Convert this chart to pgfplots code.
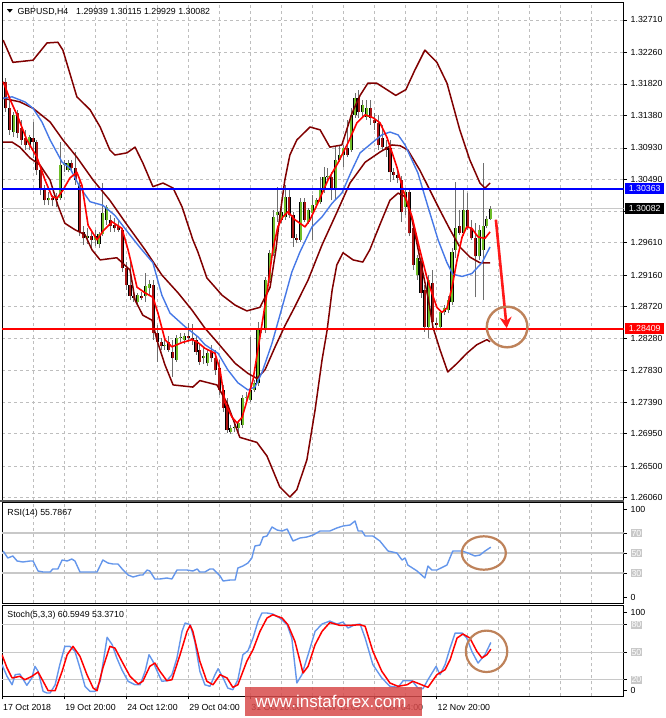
\documentclass[border=0pt]{standalone}
\usepackage{pgfplots}
\pgfplotsset{compat=1.18}
\usepackage{pgfplotstable}
\usepackage{fontspec}
\setmainfont{Liberation Sans}
\usetikzlibrary{arrows.meta}

\definecolor{bullc}{RGB}{110,190,40}
\definecolor{bearc}{RGB}{170,20,20}
\definecolor{wickc}{RGB}{110,110,110}
\definecolor{band}{RGB}{128,0,0}
\definecolor{maBlue}{RGB}{70,120,230}
\definecolor{oscBlue}{RGB}{100,150,235}
\definecolor{gridc}{RGB}{190,190,190}
\definecolor{levc}{RGB}{200,200,200}
\definecolor{ring}{RGB}{190,130,90}
\definecolor{wmred}{RGB}{215,75,75}

\newcommand\lbl{\fontsize{8.8}{10}\selectfont}
\newcommand\lev[1]{{\setlength\fboxsep{0.8pt}\colorbox{levc}{\textcolor{white}{#1}}}}

% GBPUSD H4 candles, bar index / open / high / low / close
\pgfplotstableread{
i o h l c
3 1.3115 1.3143 1.3108 1.3139
7 1.3097 1.3111 1.3090 1.3108
12 1.3020 1.3031 1.3013 1.3023
14 1.3020 1.3030 1.3010 1.3023
15 1.3023 1.3101 1.3020 1.3069
16 1.3069 1.3076 1.3059 1.3072
17 1.3062 1.3076 1.3059 1.3072
22 1.2967 1.2981 1.2959 1.2970
24 1.2965 1.2979 1.2956 1.2970
25 1.2959 1.2976 1.2954 1.2973
26 1.2973 1.3044 1.2970 1.3002
27 1.2993 1.3013 1.2986 1.3011
35 1.2879 1.2891 1.2876 1.2888
37 1.2887 1.2919 1.2879 1.2901
38 1.2898 1.2909 1.2888 1.2904
42 1.2817 1.2826 1.2812 1.2819
45 1.2798 1.2832 1.2795 1.2828
46 1.2828 1.2835 1.2823 1.2830
47 1.2826 1.2835 1.2820 1.2831
52 1.2800 1.2814 1.2792 1.2803
53 1.2793 1.2812 1.2789 1.2807
59 1.2697 1.2707 1.2695 1.2703
60 1.2703 1.2709 1.2697 1.2704
61 1.2703 1.2714 1.2697 1.2710
62 1.2707 1.2749 1.2703 1.2745
63 1.2745 1.2753 1.2739 1.2746
64 1.2742 1.2830 1.2739 1.2756
65 1.2756 1.2770 1.2753 1.2766
66 1.2766 1.2851 1.2762 1.2839
67 1.2839 1.2846 1.2835 1.2842
68 1.2839 1.2913 1.2835 1.2909
69 1.2909 1.2951 1.2905 1.2947
70 1.2947 1.3007 1.2942 1.2997
71 1.2999 1.3039 1.2990 1.3004
72 1.2993 1.3020 1.2989 1.3004
73 1.2997 1.3041 1.2993 1.3025
77 1.2965 1.3023 1.2962 1.3018
79 1.2990 1.3009 1.2987 1.3007
80 1.3002 1.3027 1.2965 1.3013
81 1.3013 1.3023 1.3011 1.3020
82 1.3018 1.3052 1.3015 1.3034
83 1.3034 1.3066 1.3030 1.3052
84 1.3052 1.3065 1.3048 1.3054
86 1.3034 1.3094 1.3020 1.3076
87 1.3076 1.3097 1.3073 1.3083
88 1.3083 1.3097 1.3066 1.3093
90 1.3090 1.3148 1.3087 1.3139
91 1.3139 1.3169 1.3135 1.3162
93 1.3143 1.3160 1.3135 1.3153
94 1.3136 1.3160 1.3132 1.3148
104 1.3011 1.3037 1.3000 1.3032
107 1.2916 1.2944 1.2909 1.2940
110 1.2844 1.2916 1.2828 1.2909
113 1.2844 1.2867 1.2841 1.2864
114 1.2864 1.2874 1.2860 1.2870
115 1.2867 1.2887 1.2863 1.2881
116 1.2878 1.2954 1.2874 1.2948
117 1.2951 1.3045 1.2940 1.2981
119 1.2974 1.3034 1.2970 1.3007
123 1.2942 1.2986 1.2937 1.2979
124 1.2951 1.3072 1.2881 1.2984
125 1.2984 1.2998 1.2981 1.2994
126 1.29939 1.30115 1.29929 1.30082
}\bull

\pgfplotstableread{
i o h l c
1 1.3185 1.3190 1.3143 1.3148
2 1.3148 1.3160 1.3111 1.3118
4 1.3142 1.3146 1.3107 1.3114
5 1.3121 1.3132 1.3097 1.3104
6 1.3107 1.3118 1.3090 1.3097
8 1.3107 1.3129 1.3079 1.3101
9 1.3101 1.3104 1.3055 1.3062
10 1.3062 1.3069 1.3027 1.3034
11 1.3034 1.3041 1.3013 1.3020
13 1.3023 1.3027 1.3012 1.3020
18 1.3072 1.3076 1.3059 1.3065
19 1.3065 1.3087 1.3041 1.3048
20 1.3041 1.3051 1.2970 1.2976
21 1.2976 1.2984 1.2958 1.2967
23 1.2970 1.2976 1.2954 1.2965
28 1.2993 1.3000 1.2976 1.2984
29 1.2986 1.2995 1.2976 1.2981
30 1.2984 1.2993 1.2976 1.2979
31 1.2979 1.2981 1.2920 1.2926
32 1.2926 1.2934 1.2895 1.2902
33 1.2902 1.2934 1.2881 1.2887
34 1.2887 1.2892 1.2879 1.2884
36 1.2887 1.2892 1.2881 1.2884
39 1.2902 1.2909 1.2826 1.2835
40 1.2835 1.2846 1.2795 1.2823
41 1.2823 1.2828 1.2812 1.2817
43 1.2823 1.2831 1.2809 1.2812
44 1.2809 1.2826 1.2774 1.2800
48 1.2831 1.2849 1.2823 1.2828
49 1.2828 1.2848 1.2819 1.2826
50 1.2826 1.2832 1.2805 1.2809
51 1.2812 1.2819 1.2791 1.2795
54 1.2809 1.2819 1.2795 1.2800
55 1.2800 1.2812 1.2777 1.2784
56 1.2786 1.2798 1.2749 1.2756
57 1.2756 1.2763 1.2725 1.2731
58 1.2735 1.2745 1.2696 1.2700
74 1.3025 1.3037 1.2995 1.2999
75 1.2999 1.3004 1.2955 1.2967
76 1.2967 1.2973 1.2960 1.2965
78 1.3018 1.3023 1.2990 1.2993
85 1.3052 1.3059 1.3020 1.3034
89 1.3093 1.3132 1.3080 1.3083
92 1.3162 1.3174 1.3135 1.3143
95 1.3148 1.3160 1.3125 1.3135
96 1.3132 1.3142 1.3118 1.3128
97 1.3128 1.3139 1.3090 1.3097
98 1.3107 1.3125 1.3090 1.3094
99 1.3094 1.3104 1.3080 1.3090
100 1.3093 1.3104 1.3046 1.3059
101 1.3059 1.3065 1.3048 1.3055
102 1.3055 1.3062 1.3044 1.3051
103 1.3048 1.3054 1.2990 1.3004
105 1.3032 1.3037 1.2970 1.2974
106 1.2981 1.2990 1.2923 1.2930
108 1.2935 1.2940 1.2884 1.2891
109 1.2895 1.2902 1.2837 1.2844
111 1.2905 1.2923 1.2839 1.2851
112 1.2849 1.2856 1.2842 1.2846
118 1.2984 1.3007 1.2972 1.2974
120 1.3007 1.3030 1.2979 1.2983
121 1.2981 1.2993 1.2965 1.2967
122 1.2967 1.2988 1.2885 1.2942
}\bear

\pgfplotsset{
  panel/.style={
    scale only axis, width=621.5pt,
    xmin=0, xmax=160.2,
    axis line style={black, line width=0.9pt},
    grid style={gridc, line width=0.6pt, dash pattern=on 3pt off 3pt},
    ytick pos=right, yticklabel pos=right,
    tick align=outside, major tick length=3pt, minor tick length=0pt,
    ytick style={black, line width=0.6pt},
    yticklabel style={font=\lbl, anchor=west, inner sep=0pt, xshift=4pt},
    xmajorgrids,
  },
  wick/.style={draw=none, no marks, forget plot,
    error bars/.cd, y dir=plus, y explicit, error mark=none,
    error bar style={draw=wickc, line width=0.9pt}},
  body/.style={draw=none, no marks, forget plot,
    error bars/.cd, y dir=plus, y explicit, error mark=none,
    error bar style={draw=#1}},
}

\begin{document}
\begin{tikzpicture}
\useasboundingbox (0pt,0pt) rectangle (665pt,-718pt);

% ---------------- price panel ----------------
\begin{axis}[panel, at={(2pt,-2pt)}, anchor=north west, height=498pt,
  ymin=1.26028, ymax=1.32960,
  xtick={8,16,...,152}, xticklabels={}, xtick style={draw=none},
  ytick={1.26060,1.26500,1.26950,1.27390,1.27830,1.28280,1.28720,1.29160,1.29610,1.30050,1.30490,1.30930,1.31380,1.31820,1.32260,1.32710},
  yticklabels={1.26060,1.26500,1.26950,1.27390,1.27830,1.28280,1.28720,1.29160,1.29610,,1.30490,1.30930,1.31380,1.31820,1.32260,1.32710},
  ymajorgrids]

\addplot[levc, line width=0.8pt] coordinates {(0,1.30082)(160.2,1.30082)};

\addplot[wick] table[x=i, y=l, y error plus expr=\thisrow{h}-\thisrow{l}] {\bull};
\addplot[wick] table[x=i, y=l, y error plus expr=\thisrow{h}-\thisrow{l}] {\bear};
\addplot[body={black, line width=3.1pt}] table[x=i, y=o, y error plus expr=\thisrow{c}-\thisrow{o}] {\bull};
\addplot[body={bullc, line width=2pt}] table[x=i, y=o, y error plus expr=\thisrow{c}-\thisrow{o}] {\bull};
\addplot[body={black, line width=3.1pt}] table[x=i, y=c, y error plus expr=\thisrow{o}-\thisrow{c}] {\bear};
\addplot[body={bearc, line width=2pt}] table[x=i, y=c, y error plus expr=\thisrow{o}-\thisrow{c}] {\bear};

% Bollinger bands
\addplot[band, line width=1.5pt, line join=round] coordinates {
(0.3,1.3243)(2.8,1.3212)(8.0,1.3215)(11.6,1.3239)(14.4,1.3240)(15.7,1.3229)(19.3,1.3164)(22.7,1.3146)(25.3,1.3122)(27.8,1.3090)(29.1,1.3083)(32.2,1.3086)(34.3,1.3094)(36.3,1.3072)(38.9,1.3039)(41.5,1.3044)(44.1,1.3037)(46.4,1.3011)(49.2,1.2965)(50.5,1.2948)(52.8,1.2912)(56.7,1.2888)(60.1,1.2874)(63.1,1.2866)(66.5,1.2871)(69.1,1.2899)(70.6,1.2951)(71.6,1.2997)(72.9,1.3048)(74.2,1.3083)(76.0,1.3104)(79.4,1.3122)(82.0,1.3118)(84.5,1.3094)(87.6,1.3097)(90.2,1.3141)(92.3,1.3166)(94.3,1.3183)(96.6,1.3183)(99.2,1.3174)(101.5,1.3166)(104.1,1.3174)(106.4,1.3201)(109.0,1.3229)(112.1,1.3212)(114.7,1.3183)(118.0,1.3118)(120.6,1.3076)(123.2,1.3044)(124.5,1.3037)(125.8,1.3044)};
\addplot[band, line width=1.5pt, line join=round] coordinates {
(0.3,1.3162)(4.6,1.3157)(8.0,1.3148)(12.4,1.3129)(15.7,1.3104)(19.3,1.3080)(23.5,1.3048)(27.8,1.3020)(32.2,1.2986)(36.9,1.2951)(41.2,1.2916)(45.4,1.2891)(49.0,1.2867)(52.3,1.2842)(54.9,1.2826)(60.1,1.2793)(63.4,1.2779)(65.7,1.2772)(67.8,1.2784)(70.4,1.2816)(72.9,1.2845)(75.5,1.2872)(78.9,1.2909)(82.5,1.2958)(85.8,1.2997)(89.7,1.3044)(93.6,1.3073)(97.4,1.3087)(100.5,1.3097)(102.6,1.3096)(104.6,1.3090)(107.7,1.3062)(110.3,1.3034)(112.9,1.3006)(115.5,1.2979)(118.0,1.2955)(120.6,1.2941)(123.2,1.2933)(125.8,1.2933)};
\addplot[band, line width=1.5pt, line join=round] coordinates {
(0.3,1.3101)(2.6,1.3101)(4.6,1.3094)(7.2,1.3079)(9.8,1.3069)(12.4,1.3048)(14.4,1.3013)(16.2,1.2988)(18.8,1.2979)(21.4,1.2972)(23.2,1.2951)(25.3,1.2937)(29.6,1.2940)(33.0,1.2923)(34.3,1.2881)(36.3,1.2860)(38.7,1.2853)(39.9,1.2826)(42.0,1.2791)(44.1,1.2763)(49.2,1.2760)(51.0,1.2769)(55.4,1.2763)(58.0,1.2738)(61.3,1.2690)(65.7,1.2683)(68.3,1.2664)(71.6,1.2621)(74.2,1.2607)(76.0,1.2617)(78.6,1.2659)(80.7,1.2728)(82.5,1.2798)(83.8,1.2839)(85.1,1.2895)(86.3,1.2930)(87.9,1.2947)(90.5,1.2937)(93.0,1.2934)(94.8,1.2951)(97.4,1.2986)(100.0,1.3020)(102.1,1.3030)(103.9,1.3025)(105.7,1.2993)(108.2,1.2927)(109.8,1.2885)(111.1,1.2843)(112.9,1.2812)(114.9,1.2781)(117.3,1.2793)(119.8,1.2807)(122.4,1.2819)(125.0,1.2826)(125.8,1.2823)};

% slow moving average
\addplot[maBlue, line width=1.4pt, line join=round] coordinates {
(0.3,1.3162)(2.6,1.3164)(5.9,1.3157)(8.0,1.3148)(10.3,1.3129)(12.4,1.3104)(15.5,1.3073)(17.5,1.3065)(20.1,1.3038)(22.7,1.3018)(26.0,1.3013)(29.1,1.2999)(32.5,1.2975)(35.6,1.2954)(38.9,1.2933)(41.2,1.2888)(43.3,1.2863)(47.2,1.2844)(50.5,1.2830)(52.3,1.2819)(55.7,1.2807)(58.2,1.2784)(60.8,1.2766)(63.4,1.2756)(65.2,1.2760)(67.0,1.2780)(69.6,1.2821)(72.2,1.2871)(74.7,1.2920)(76.8,1.2948)(79.9,1.2983)(82.5,1.2997)(85.1,1.3016)(87.6,1.3030)(90.2,1.3062)(92.3,1.3086)(95.4,1.3100)(97.9,1.3111)(100.0,1.3115)(102.1,1.3111)(103.9,1.3097)(107.2,1.3058)(109.8,1.3011)(112.4,1.2965)(114.7,1.2933)(116.2,1.2917)(118.6,1.2914)(121.1,1.2918)(123.7,1.2933)(125.8,1.2955)};

% fast moving average
\addplot[red, line width=1.6pt, line join=round] coordinates {
(0.3,1.3185)(2.1,1.3160)(4.1,1.3136)(6.4,1.3104)(9.0,1.3080)(11.1,1.3048)(12.9,1.3025)(14.2,1.3023)(15.7,1.3034)(17.5,1.3051)(19.3,1.3059)(20.6,1.3041)(22.2,1.2985)(24.5,1.2965)(26.0,1.2977)(28.4,1.2990)(30.9,1.2981)(32.5,1.2951)(34.8,1.2899)(36.9,1.2891)(38.9,1.2885)(40.2,1.2863)(42.0,1.2826)(43.8,1.2816)(46.4,1.2822)(49.0,1.2826)(50.5,1.2822)(52.3,1.2814)(54.9,1.2807)(56.2,1.2784)(57.5,1.2738)(59.3,1.2718)(60.6,1.2710)(61.9,1.2718)(63.4,1.2746)(64.7,1.2770)(66.5,1.2830)(68.3,1.2891)(69.8,1.2951)(71.1,1.2983)(72.4,1.2997)(73.7,1.3004)(75.5,1.2993)(78.1,1.2983)(79.4,1.2993)(81.4,1.3016)(84.0,1.3048)(86.6,1.3072)(89.2,1.3100)(91.5,1.3128)(93.6,1.3139)(95.6,1.3135)(97.4,1.3128)(99.2,1.3108)(100.5,1.3087)(101.8,1.3066)(103.4,1.3034)(105.7,1.2997)(107.7,1.2951)(109.5,1.2913)(110.8,1.2891)(112.1,1.2871)(113.4,1.2864)(114.7,1.2870)(116.0,1.2899)(117.3,1.2937)(118.6,1.2969)(119.8,1.2983)(121.1,1.2981)(122.7,1.2969)(124.5,1.2967)(125.8,1.2976)};

% levels
\addplot[blue, line width=2pt] coordinates {(0,1.30363)(160.2,1.30363)};
\addplot[red, line width=2pt] coordinates {(0,1.28409)(160.2,1.28409)};

\coordinate (lab1) at (axis cs:160.2,1.30363);
\coordinate (lab2) at (axis cs:160.2,1.30082);
\coordinate (lab3) at (axis cs:160.2,1.28409);
\coordinate (arrS) at (axis cs:127.3,1.2993);
\coordinate (arrE) at (axis cs:130.1,1.2842);
\coordinate (ringM) at (axis cs:130.2,1.28436);
\end{axis}

% ---------------- RSI panel ----------------
\begin{axis}[panel, at={(2pt,-502pt)}, anchor=north west, height=101pt,
  ymin=0, ymax=101,
  xtick={8,16,...,152}, xticklabels={}, xtick style={draw=none},
  ytick={6,30,50,70,94}, yticklabels={0,\lev{30},\lev{50},\lev{70},100}]
\addplot[levc, line width=1.2pt] coordinates {(0,30)(160.2,30)};
\addplot[levc, line width=1.2pt] coordinates {(0,50)(160.2,50)};
\addplot[levc, line width=1.2pt] coordinates {(0,70)(160.2,70)};
\addplot[oscBlue, line width=1.4pt, line join=round] coordinates {
(0.3,52)(1.5,45)(2.8,47)(3.9,42)(5.4,41)(7.2,42)(8.0,42)(9.3,32)(10.6,31)(12.4,31)(13.1,34)(14.4,34)(15.5,43)(16.8,42)(18.0,44)(18.8,42)(20.1,31)(21.9,31)(24.5,31)(26.0,43)(27.3,40)(28.6,39)(29.9,39)(31.2,33)(32.5,28)(33.8,26)(35.6,28)(36.3,28)(37.4,33)(38.1,32)(39.4,24)(40.7,24)(42.5,25)(43.8,24)(45.1,33)(47.7,33)(49.2,32)(50.3,34)(51.0,31)(52.3,31)(53.6,34)(54.4,34)(56.2,27)(57.0,22)(58.8,23)(60.1,23)(60.8,35)(62.1,37)(63.4,40)(64.4,45)(65.2,57)(66.5,58)(67.3,66)(68.3,67)(69.6,76)(70.9,73)(72.2,72)(73.5,74)(75.0,62)(76.8,65)(78.6,66)(80.2,68)(82.0,72)(84.5,72)(86.3,75)(87.9,77)(89.7,78)(91.0,82)(91.8,72)(92.8,72)(93.6,67)(95.6,67)(97.4,62)(99.5,52)(101.8,50)(103.1,43)(103.9,45)(104.6,38)(107.0,32)(109.0,25)(109.8,37)(110.8,33)(112.1,33)(114.7,38)(116.2,52)(118.6,52)(120.1,50)(121.9,47)(123.2,48)(124.5,52)(126.0,55.8)};
\coordinate (ringR) at (axis cs:124.2,50);
\end{axis}

% ---------------- Stochastic panel ----------------
\begin{axis}[panel, at={(2pt,-605.3pt)}, anchor=north west, height=91pt,
  ymin=1.9, ymax=101.2,
  xtick pos=bottom,
  xtick={0,16,...,112},
  xticklabels={17 Oct 2018,19 Oct 20:00,24 Oct 12:00,29 Oct 04:00,31 Oct 20:00,5 Nov 12:00,8 Nov 04:00,12 Nov 20:00},
  minor xtick={8,24,40,56,72,88,104,120,128,136,144,152},
  xminorgrids,
  xtick style={black, line width=0.6pt},
  xticklabel style={font=\lbl, anchor=north west, inner sep=0pt, xshift=1pt, yshift=-4.5pt},
  ytick={8,20,50,80,93.5}, yticklabels={0,\lev{20},\lev{50},\lev{80},100}]
\addplot[levc, line width=1.2pt] coordinates {(0,20)(160.2,20)};
\addplot[levc, line width=1.2pt] coordinates {(0,50)(160.2,50)};
\addplot[levc, line width=1.2pt] coordinates {(0,80)(160.2,80)};
\addplot[oscBlue, line width=1.4pt, line join=round] coordinates {
(0,36.4)(1.3,23.7)(2.6,14.5)(3.4,25.5)(4.6,26.2)(6.4,13.9)(7.7,21.9)(8.5,34.6)(9.3,29.2)(10.6,7.3)(11.6,5.5)(12.4,5.5)(13.7,14.5)(14.9,36.4)(16.2,56.4)(17.5,56.4)(18.8,51.0)(20.1,32.8)(21.4,12.8)(22.7,7.3)(24.0,7.3)(25.3,18.3)(27.1,66.3)(28.4,58.2)(29.6,43.7)(30.9,30.9)(32.5,18.3)(34.3,14.5)(35.6,14.5)(36.9,29.2)(37.9,47.3)(38.9,40.1)(40.2,27.3)(41.2,18.3)(42.5,18.9)(43.8,25.5)(45.1,43.7)(46.4,72.8)(47.2,81.9)(48.5,80.0)(49.7,61.9)(51.0,29.2)(52.3,14.5)(53.6,12.8)(54.9,25.5)(55.7,32.0)(57.0,21.9)(58.2,10.9)(59.5,9.1)(60.8,20.0)(62.1,47.3)(63.4,51.6)(64.7,65.5)(66.0,83.7)(67.0,92.8)(68.3,92.8)(69.8,91.7)(71.6,87.3)(73.5,80.0)(74.7,65.5)(76.0,16.4)(77.3,25.5)(78.9,47.3)(80.7,72.8)(82.5,80.8)(84.5,84.0)(86.3,80.8)(87.9,82.9)(89.2,76.4)(91.0,80.0)(92.3,80.8)(93.6,65.5)(95.6,36.4)(97.9,21.9)(100.0,12.8)(102.1,11.7)(103.4,18.9)(105.7,18.9)(107.2,10.9)(108.5,10.2)(109.8,20.0)(111.9,34.6)(112.9,25.5)(114.2,36.4)(115.5,54.6)(116.8,70.9)(118.6,70.9)(119.8,65.5)(121.1,51.0)(122.7,38.2)(124.5,47.3)(126.0,60.6)};
\addplot[red, line width=1.5pt, line join=round] coordinates {
(0,47.3)(1.3,32.8)(2.6,21.9)(4.6,23.7)(5.9,20.0)(7.7,23.7)(9.3,28.4)(10.6,18.3)(11.9,8.0)(13.7,8.0)(15.5,29.2)(16.8,47.3)(18.3,56.4)(20.1,45.5)(21.9,25.5)(23.5,10.9)(24.5,8.0)(26.0,32.8)(27.8,56.4)(29.1,54.6)(30.9,40.1)(33.0,23.7)(35.1,15.3)(36.3,18.3)(38.1,34.6)(39.4,38.2)(40.7,29.2)(42.5,18.9)(43.8,20.0)(45.9,47.3)(47.7,72.8)(48.5,79.3)(49.2,72.8)(51.0,40.1)(52.8,18.3)(54.4,14.5)(56.2,25.5)(58.0,21.9)(59.5,11.7)(60.8,14.5)(63.1,40.1)(64.7,52.7)(66.5,72.8)(68.3,87.3)(69.8,90.9)(72.2,87.3)(73.7,80.0)(75.5,61.9)(77.6,27.3)(78.9,34.6)(80.7,58.2)(82.5,72.8)(84.5,82.4)(87.1,79.3)(89.7,79.3)(92.3,80.0)(93.6,78.3)(95.6,51.0)(97.9,29.2)(100.0,16.4)(102.1,12.8)(104.4,14.5)(105.9,18.3)(107.7,15.3)(109.8,11.7)(112.1,25.5)(114.2,30.9)(115.5,41.8)(117.3,65.5)(118.8,69.9)(120.6,65.5)(122.4,51.0)(123.7,43.7)(125.0,47.3)(126.0,53.4)};
\coordinate (ringS) at (axis cs:124.9,51);
\end{axis}

% panel separator
\fill[black!65] (0pt,-500.3pt) rectangle (623.5pt,-501.7pt);

% headers
\fill (7pt,-9.2pt) -- (12.6pt,-9.2pt) -- (9.8pt,-12.6pt) -- cycle;
\node[anchor=base west, inner sep=0pt, font=\lbl] at (17.3pt,-14pt) {GBPUSD,H4};
\node[anchor=base west, inner sep=0pt, font=\lbl] at (76pt,-14pt) {1.29939 1.30115 1.29929 1.30082};
\node[anchor=base west, inner sep=0pt, font=\lbl] at (7.3pt,-515pt) {RSI(14) 55.7867};
\node[anchor=base west, inner sep=0pt, font=\lbl] at (7.3pt,-617.8pt) {Stoch(5,3,3) 60.5949 53.3710};

% price tags
\node[fill=blue, text=white, anchor=west, inner sep=0pt, minimum width=39pt, minimum height=11pt, font=\lbl] at ([xshift=1.5pt]lab1) {1.30363};
\node[fill=black, text=white, anchor=west, inner sep=0pt, minimum width=39pt, minimum height=11pt, font=\lbl] at ([xshift=1.5pt]lab2) {1.30082};
\node[fill=red, text=white, anchor=west, inner sep=0pt, minimum width=39pt, minimum height=11pt, font=\lbl] at ([xshift=1.5pt]lab3) {1.28409};

% annotations
\draw[red!90!white, line width=2.6pt, -{Stealth[length=11pt,width=12pt]}] (arrS) -- (arrE);
\draw[ring, line width=2.4pt] (ringM) circle[radius=20.3pt];
\draw[ring, line width=2.2pt] (ringR) ellipse[x radius=22pt, y radius=16.7pt];
\draw[ring, line width=2.2pt] (ringS) circle[radius=20.7pt];

% watermark
\fill[wmred, opacity=0.85] (245pt,-687pt) rectangle (422pt,-716pt);
\node[text=white, inner sep=0pt, font=\fontsize{17}{17}\selectfont] at (331pt,-701.5pt) {www.instaforex.com};
\end{tikzpicture}
\end{document}
